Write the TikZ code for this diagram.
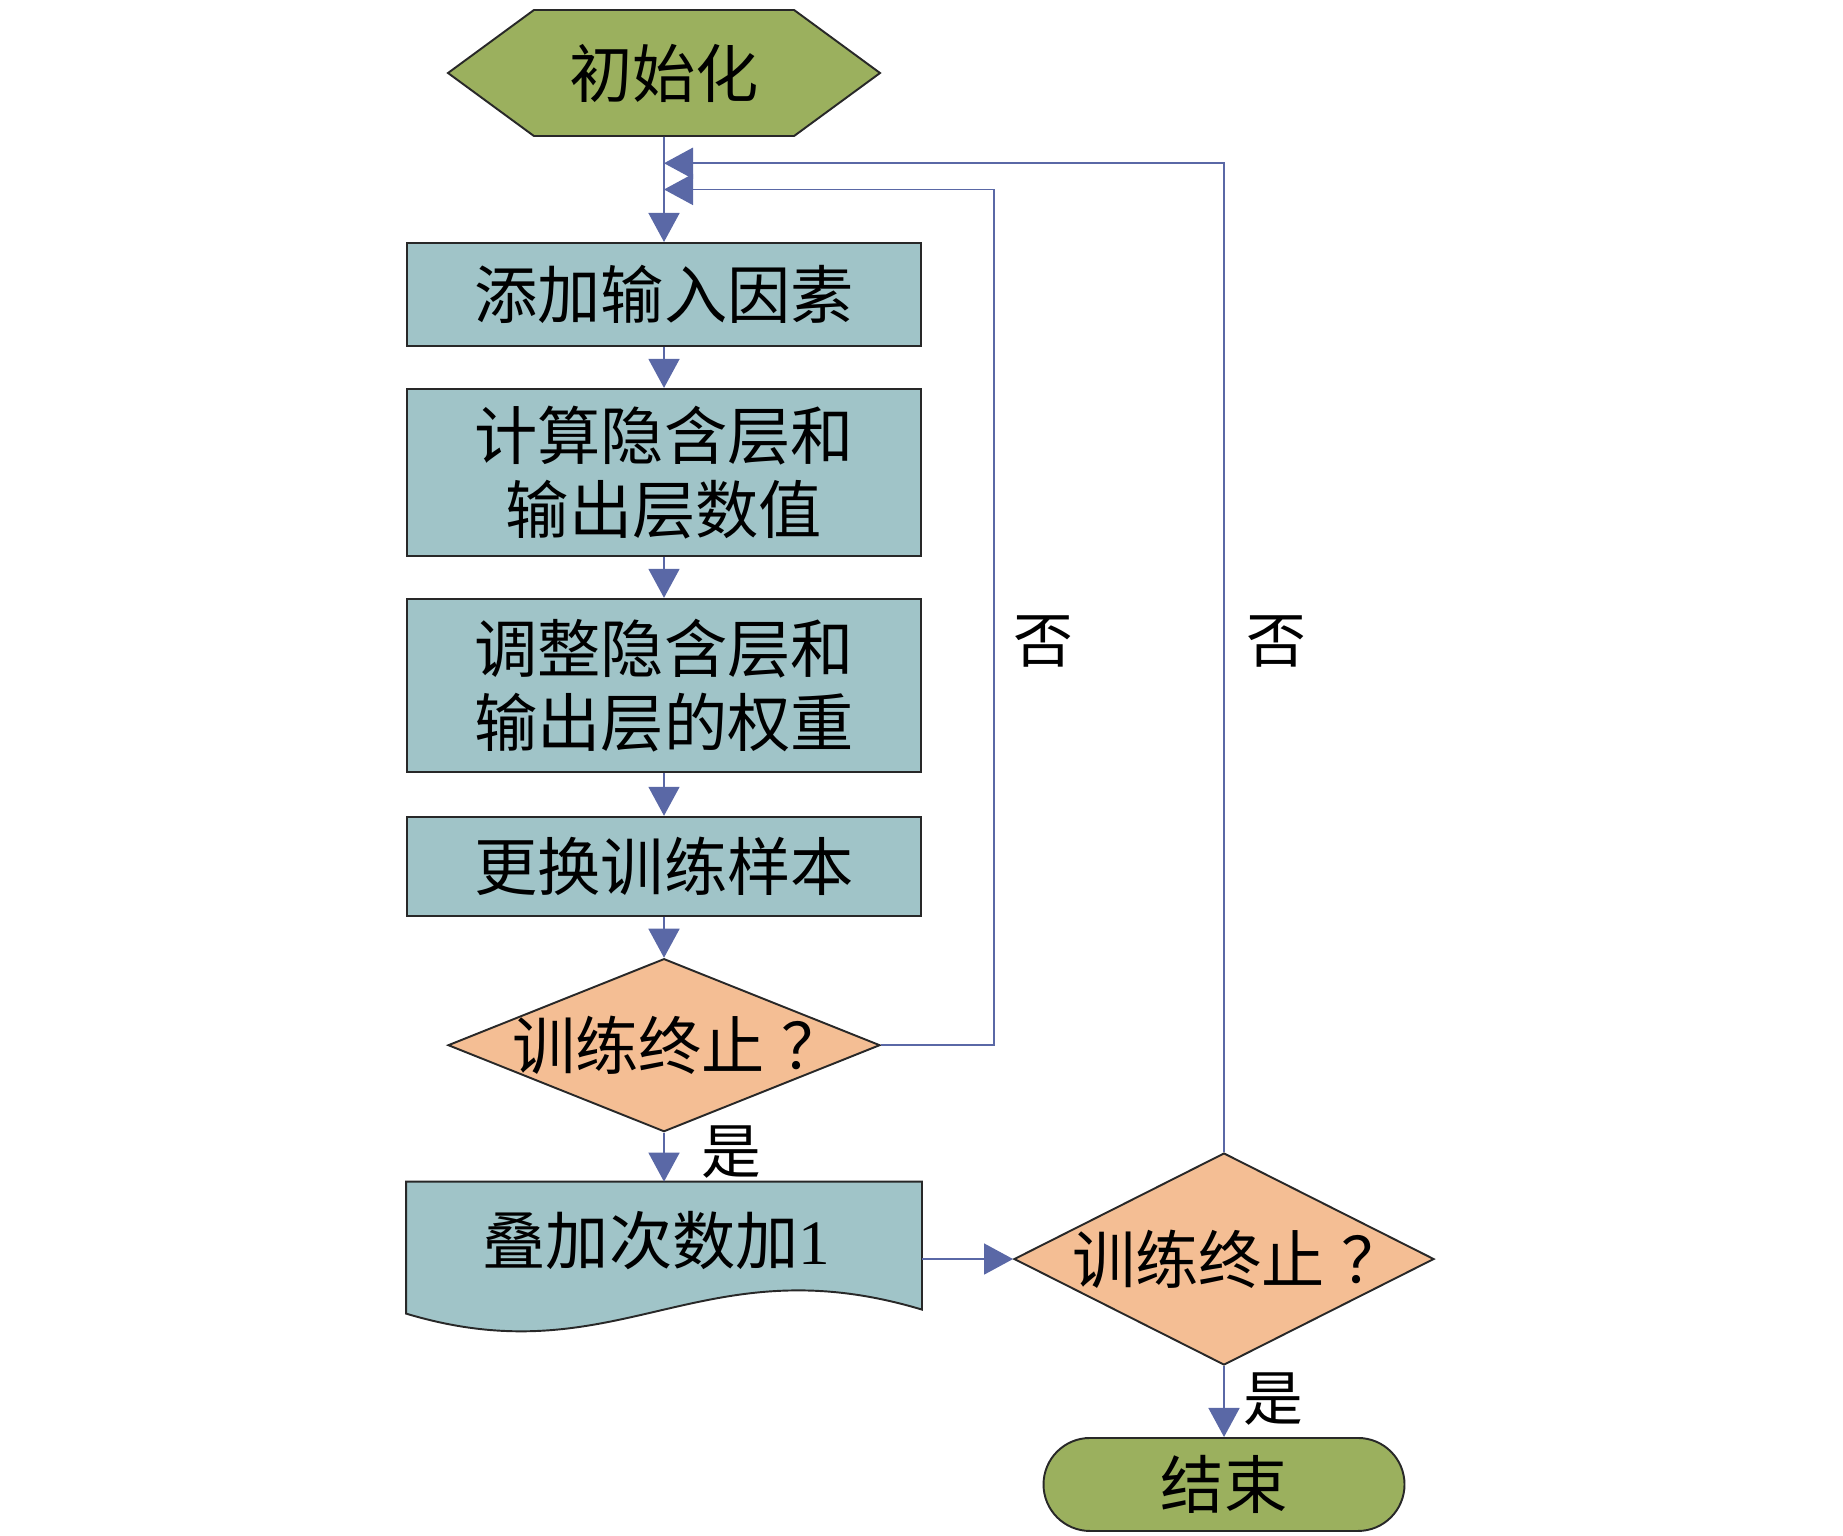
\documentclass[tikz,border=0pt]{standalone}
\usepackage{fontspec}
\setmainfont{Liberation Serif}
\newfontfamily\cjk{Noto Sans CJK SC}
\usetikzlibrary{shapes.geometric,shapes.symbols,shapes.misc,arrows.meta,positioning,calc,backgrounds}

\definecolor{startgreen}{RGB}{155,176,94}
\definecolor{boxteal}{RGB}{160,196,200}
\definecolor{testorange}{RGB}{244,190,148}
\definecolor{flowblue}{RGB}{90,104,166}
\definecolor{edgegray}{RGB}{40,40,40}

\begin{document}
\begin{tikzpicture}[%
    >={Triangle[length=2.9mm,width=3.1mm]}, % filled triangle tips
    node distance=4.1mm,                    % gap between the boxes
    every node/.style={font=\cjk\fontsize{18pt}{21pt}\selectfont},
    ]
% -------------------------------------------------
% Box styles
\tikzset{
  base/.style={draw=edgegray, line width=0.55pt, align=center, inner sep=0pt},
  term/.style={base, fill=startgreen},
  proc/.style={base, rectangle, fill=boxteal, minimum width=5.14cm},
  test/.style={base, diamond, fill=testorange},
  % Connector line style
  norm/.style={->, draw=flowblue, line width=0.45pt},
  lab/.style={font=\cjk\fontsize{17pt}{20pt}\selectfont, inner sep=0pt}
}
\useasboundingbox (0,0) rectangle (18.43,-15.35);
% -------------------------------------------------
% Place the nodes
\node [term, signal, signal to=east and west, signal pointer angle=72.5,
       minimum width=4.32cm, minimum height=1.26cm] (init) at (6.64,-0.73) {初始化};
\node [proc, minimum height=1.03cm, below=1.05cm of init] (add) {添加输入因素};
\node [proc, minimum height=1.67cm, below=of add] (calc) {计算隐含层和\\输出层数值};
\node [proc, minimum height=1.73cm, below=of calc] (adjust) {调整隐含层和\\输出层的权重};
\node [proc, minimum height=0.99cm, below=4.3mm of adjust] (swap) {更换训练样本};
\node [test, minimum width=4.32cm, minimum height=1.73cm, below=of swap] (stop1)
  {\makebox[0pt]{\hspace{0.45em}训练终止\hspace{0.25em}？}};
\node [proc, draw=none, fill=none, minimum height=1.16cm, below=4.9mm of stop1] (sum)
  {\hspace{-0.15cm}叠加次数加{\rmfamily 1}};
\node [test, minimum width=4.20cm, minimum height=2.12cm] (stop2) at (12.24,-12.59)
  {\makebox[0pt]{\hspace{0.45em}训练终止\hspace{0.25em}？}};
\node [term, rounded rectangle, minimum width=3.61cm, minimum height=0.93cm,
       below=0.71cm of stop2] (end) {结束};

% document shape behind the counter text
\begin{scope}[on background layer]
\draw [fill=boxteal, draw=edgegray, line width=0.55pt]
  (sum.north west) -- (sum.north east) -- ($(sum.south east)+(0,-0.10)$)
  .. controls ($(sum.south east)+(-2.23,0.57)$) and ($(sum.south east)+(-3.03,-0.78)$)
  .. ($(sum.south west)+(0,-0.14)$) -- cycle;
\end{scope}

% -------------------------------------------------
% Connectors
\coordinate (in1) at ($(init.south)!0.5!(add.north)$);
\coordinate (in2) at ($(init.south)!0.25!(add.north)$);

\draw [norm] (init) -- (add);
\draw [norm] (add) -- (calc);
\draw [norm] (calc) -- (adjust);
\draw [norm] (adjust) -- (swap);
\draw [norm] (swap) -- (stop1);
\draw [norm] (stop1) -- node [lab, pos=0.4, right=3.7mm] {是} (sum);
\draw [norm] (sum.east |- stop2.west) -- (stop2.west);
\draw [norm] (stop2) -- node [lab, pos=0.46, right=1.9mm] {是} (end);

\draw [norm] (stop1.east) -- ++(1.13,0)
  |- node [lab, pos=0.236, right=1.9mm] {否} (in1);
\draw [norm] (stop2.north)
  |- node [lab, pos=0.258, right=2.2mm] {否} (in2);
% -------------------------------------------------
\end{tikzpicture}
\end{document}
